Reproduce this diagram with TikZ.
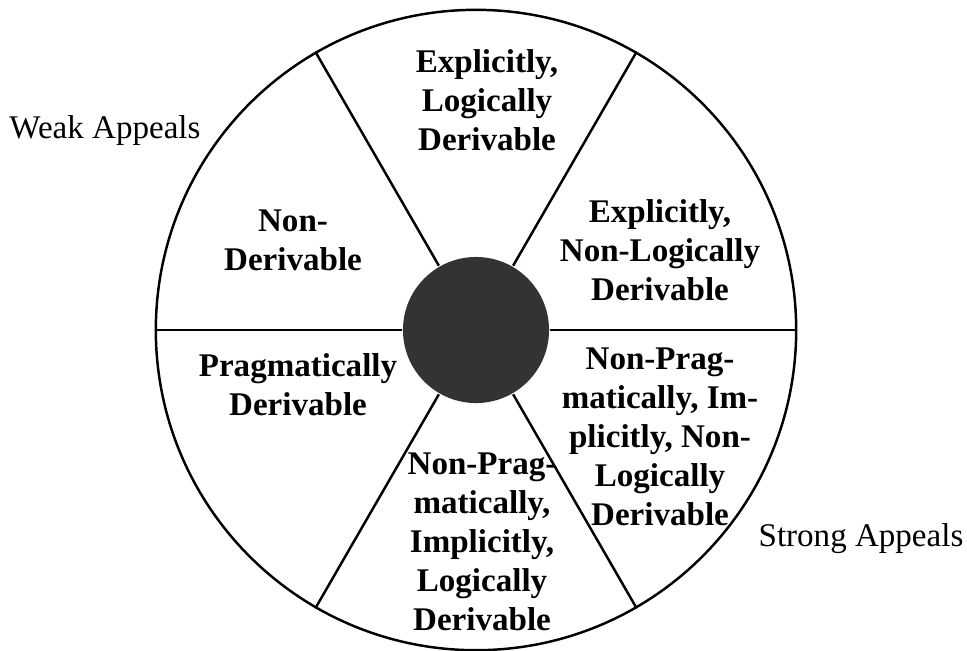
\documentclass[tikz,border=0pt]{standalone}
\usepackage{fontspec}
\setmainfont{Liberation Serif}
\usetikzlibrary{positioning}

\begin{document}
\begin{tikzpicture}[
  x=0.01cm, y=0.01cm,
  line width=0.7pt,
  wheel/.style={circle, draw, minimum size=6.4cm, inner sep=0pt},
  hub/.style={circle, fill=black!80, minimum size=1.46cm, inner sep=0pt},
  lbl/.style={align=center, font=\bfseries\fontsize{9.4}{11.1}\selectfont},
  side/.style={anchor=base, font=\fontsize{9.4}{11.1}\selectfont}
]
  \useasboundingbox (0,0) rectangle (967,650);
  \coordinate (c) at (476,320);

  \node[wheel] (rim) at (c) {};
  \node[hub] (hub) at (c) {};

  \foreach \a in {0,60,...,300}
    \draw (hub.\a) -- (rim.\a);

  \node[lbl] (elog) at (487,550) {Explicitly,\\Logically\\Derivable};
  \node[lbl] (enlog) at (660,400) {Explicitly,\\Non-Logically\\Derivable};
  \node[lbl] (nonder) at (293,410) {Non-\\Derivable};
  \node[lbl] (prag) at (298,265) {Pragmatically\\Derivable};
  \node[lbl] (implog) at (482,108) {Non-Prag-\\matically,\\Implicitly,\\Logically\\Derivable};
  \node[lbl] (impnlog) at (660,213) {Non-Prag-\\matically, Im-\\plicitly, Non-\\Logically\\Derivable};

  \node[side] (weak) at (105,512) {Weak Appeals};
  \node[side] (strong) at (861,104) {Strong Appeals};
\end{tikzpicture}
\end{document}
